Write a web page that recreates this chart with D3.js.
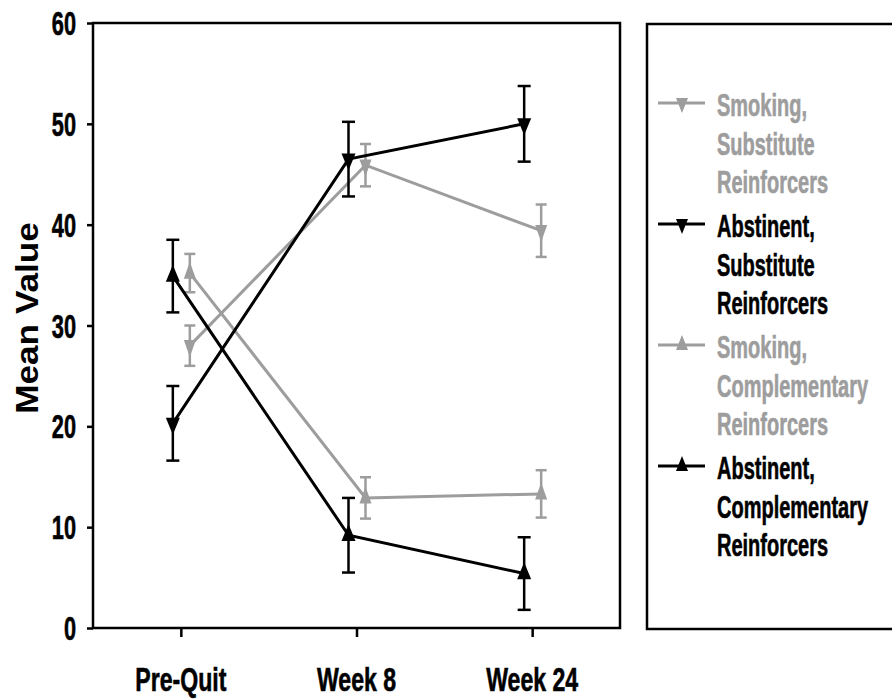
<!DOCTYPE html>
<html>
<head>
<meta charset="utf-8">
<script src="https://cdn.jsdelivr.net/npm/d3@7"></script>
<style>
  body { margin: 0; background: #fff; }
  svg { display: block; }
</style>
</head>
<body>
<svg id="chart" width="892" height="700"></svg>
<script>
// data
const timepoints = ["Pre-Quit", "Week 8", "Week 24"];
const yTicks = [0, 10, 20, 30, 40, 50, 60];

const smokingSubstitute      = [28.0, 45.9, 39.4];
const smokingSubstituteErr   = [2.0, 2.1, 2.6];
const abstinentSubstitute    = [20.3, 46.5, 50.0];
const abstinentSubstituteErr = [3.7, 3.7, 3.75];
const smokingComplement      = [35.2, 12.9, 13.3];
const smokingComplementErr   = [1.9, 2.05, 2.35];
const abstinentComplement    = [34.9, 9.2, 5.4];
const abstinentComplementErr = [3.6, 3.7, 3.6];

const seriesNames = [
  ["Smoking,", "Substitute", "Reinforcers"],
  ["Abstinent,", "Substitute", "Reinforcers"],
  ["Smoking,", "Complementary", "Reinforcers"],
  ["Abstinent,", "Complementary", "Reinforcers"]
];

const grey = "#9d9d9d";
const series = [
  { name: seriesNames[0], values: smokingSubstitute,   err: smokingSubstituteErr,   color: grey,   up: false, dx: 9 },
  { name: seriesNames[1], values: abstinentSubstitute, err: abstinentSubstituteErr, color: "#000", up: false, dx: -8 },
  { name: seriesNames[2], values: smokingComplement,   err: smokingComplementErr,   color: grey,   up: true,  dx: 9 },
  { name: seriesNames[3], values: abstinentComplement, err: abstinentComplementErr, color: "#000", up: true,  dx: -8 }
];

const svg = d3.select("#chart");
const font = "'Liberation Sans', Arial, sans-serif";

const plot = { left: 93, right: 620, top: 23, bottom: 628 };

const x = d3.scalePoint()
  .domain(timepoints)
  .range([plot.left, plot.right])
  .padding(0.5);

const y = d3.scaleLinear()
  .domain([0, 60])
  .range([plot.bottom, plot.top]);

// narrow bold text: glyphs look squeezed horizontally in the source
function label(g, tx, ty, str, size, anchor, sx, fill) {
  const c = fill || "#000";
  g.append("g")
    .attr("transform", `translate(${tx},${ty}) scale(${sx},1)`)
    .append("text")
      .attr("text-anchor", anchor)
      .style("font-family", font)
      .style("font-weight", "bold")
      .style("font-size", size + "px")
      .style("fill", c)
      .style("stroke", c)
      .style("stroke-width", 0.6)
      .text(str);
}

function triangle(up, w, h) {
  // centroid-centred triangle
  const a = up ? -h * 2 / 3 : h * 2 / 3;
  const b = up ? h / 3 : -h / 3;
  return `M0,${a}L${w / 2},${b}L${-w / 2},${b}Z`;
}

// frame
svg.append("rect")
  .attr("x", plot.left).attr("y", plot.top)
  .attr("width", plot.right - plot.left)
  .attr("height", plot.bottom - plot.top)
  .attr("fill", "none")
  .attr("stroke", "#000")
  .attr("stroke-width", 2.5);

// y axis
const yAxis = svg.append("g")
  .attr("transform", `translate(${plot.left},0)`)
  .call(d3.axisLeft(y).tickValues(yTicks).tickSize(6).tickFormat(""));
yAxis.select(".domain").remove();
yAxis.selectAll("line").attr("stroke", "#000").attr("stroke-width", 2.5);
yTicks.forEach(t => label(svg, 76, y(t) + 12, String(t), 33, "end", 0.66));

// x axis
const xAxis = svg.append("g")
  .attr("transform", `translate(0,${plot.bottom})`)
  .call(d3.axisBottom(x).tickSize(9).tickFormat(""));
xAxis.select(".domain").remove();
xAxis.selectAll("line").attr("stroke", "#000").attr("stroke-width", 2.5);
timepoints.forEach(t => label(svg, x(t), 691, t, 34, "middle", 0.68));

// y title
svg.append("g")
  .attr("transform", "translate(38,318) rotate(-90) scale(1.1,1)")
  .append("text")
    .attr("text-anchor", "middle")
    .style("font-family", font)
    .style("font-weight", "bold")
    .style("font-size", "32px")
    .text("Mean Value");

// series: grey ones underneath
const order = [0, 2, 1, 3];
const line = d3.line();
order.forEach(i => {
  const s = series[i];
  const g = svg.append("g");
  const pts = timepoints.map((t, k) => [x(t) + s.dx, y(s.values[k])]);
  const capW = s.color === grey ? 11 : 13;

  timepoints.forEach((t, k) => {
    const cx = x(t) + s.dx;
    const hi = y(s.values[k] + s.err[k]);
    const lo = y(s.values[k] - s.err[k]);
    g.append("line").attr("x1", cx).attr("x2", cx).attr("y1", hi).attr("y2", lo)
      .attr("stroke", s.color).attr("stroke-width", 2.5);
    [hi, lo].forEach(yy => g.append("line")
      .attr("x1", cx - capW / 2).attr("x2", cx + capW / 2)
      .attr("y1", yy).attr("y2", yy)
      .attr("stroke", s.color).attr("stroke-width", 2.5));
  });

  g.append("path")
    .attr("d", line(pts))
    .attr("fill", "none")
    .attr("stroke", s.color)
    .attr("stroke-width", 3);

  g.selectAll("path.mk")
    .data(pts)
    .join("path")
      .attr("class", "mk")
      .attr("transform", d => `translate(${d[0]},${d[1]})`)
      .attr("d", triangle(s.up, capW + 1, 17))
      .attr("fill", s.color);
});

// legend
const lg = svg.append("g");
lg.append("rect")
  .attr("x", 647).attr("y", 24)
  .attr("width", 260).attr("height", 605)
  .attr("fill", "none")
  .attr("stroke", "#000")
  .attr("stroke-width", 2.5);

series.forEach((s, i) => {
  const cy = 103 + i * 121;
  lg.append("line")
    .attr("x1", 658).attr("x2", 705)
    .attr("y1", cy).attr("y2", cy)
    .attr("stroke", s.color).attr("stroke-width", 3);
  lg.append("path")
    .attr("transform", `translate(682,${cy})`)
    .attr("d", triangle(s.up, 12, 15))
    .attr("fill", s.color);
  s.name.forEach((txt, j) => label(lg, 717, cy + 13 + j * 38.5, txt, 31, "start", 0.645, s.color));
});
</script>
</body>
</html>
